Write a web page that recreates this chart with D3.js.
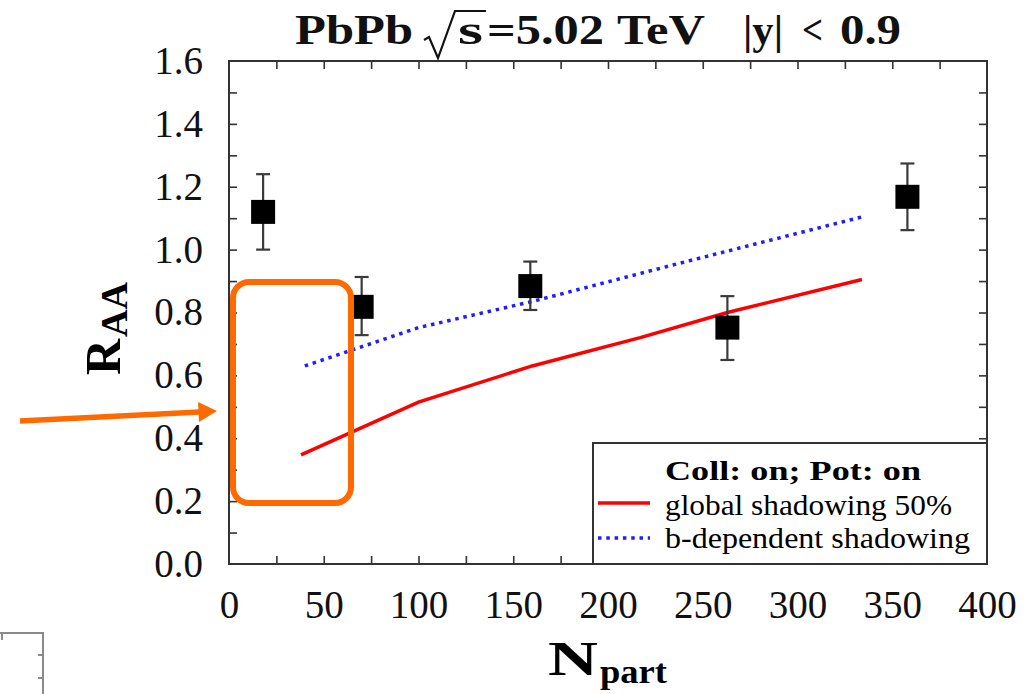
<!DOCTYPE html>
<html>
<head>
<meta charset="utf-8">
<script src="https://cdn.jsdelivr.net/npm/d3@7"></script>
<style>
  html, body { margin: 0; padding: 0; background: #fff; }
  svg { display: block; }
</style>
</head>
<body>
<svg id="chart" width="1035" height="694"></svg>
<script>
// Measured R_AA versus N_part (PbPb, 5.02 TeV, |y| < 0.9)
const dataNpart = [18, 70, 159, 263, 358];
const dataRaa   = [1.12, 0.818, 0.884, 0.752, 1.168];
const dataErrLo = [1.00, 0.728, 0.808, 0.649, 1.062];
const dataErrHi = [1.24, 0.913, 0.962, 0.852, 1.274];

// Model curves (Coll: on; Pot: on)
const globalNpart = [38, 100, 160, 217, 263, 334];
const globalRaa   = [0.347, 0.515, 0.63, 0.72, 0.80, 0.905];
const bdepNpart   = [40, 100, 160, 238, 334];
const bdepRaa     = [0.63, 0.752, 0.835, 0.957, 1.104];

// Axis ticks
const xTickLabels = [0, 50, 100, 150, 200, 250, 300, 350, 400];
const xMinorTicks = [25, 50, 75, 100, 125, 150, 175, 200, 225, 250, 275, 300, 325, 350, 375];
const yTickLabels = [0.0, 0.2, 0.4, 0.6, 0.8, 1.0, 1.2, 1.4, 1.6];
const yMinorTicks = [0.1, 0.2, 0.3, 0.4, 0.5, 0.6, 0.7, 0.8, 0.9, 1.0, 1.1, 1.2, 1.3, 1.4, 1.5];

const legendTitle = "Coll: on; Pot: on";
const legendLabels = ["global shadowing 50%", "b-dependent shadowing"];

const svg = d3.select("#chart");
const serif = "'Liberation Serif', 'Times New Roman', serif";

const x = d3.scaleLinear().domain([0, 400]).range([229, 987]);
const y = d3.scaleLinear().domain([0, 1.6]).range([564, 61]);

const frameColor = "#333";

// inward tick marks on all four sides
function tickAxis(axis, transform) {
  const g = svg.append("g").attr("transform", transform).call(axis);
  g.select(".domain").remove();
  g.selectAll("line").attr("stroke", frameColor).attr("stroke-width", 1.6);
  g.selectAll("text").remove();
}
tickAxis(d3.axisBottom(x).tickValues(xMinorTicks).tickSizeInner(-8).tickSizeOuter(0), `translate(0,${y(0)})`);
tickAxis(d3.axisTop(x).tickValues(xMinorTicks).tickSizeInner(-8).tickSizeOuter(0), `translate(0,${y(1.6)})`);
tickAxis(d3.axisLeft(y).tickValues(yMinorTicks).tickSizeInner(-8).tickSizeOuter(0), `translate(${x(0)},0)`);
tickAxis(d3.axisRight(y).tickValues(yMinorTicks).tickSizeInner(-8).tickSizeOuter(0), `translate(${x(400)},0)`);

// tick labels
const xLab = svg.append("g").attr("transform", `translate(0,${y(0)})`)
  .call(d3.axisBottom(x).tickValues(xTickLabels).tickSize(0).tickPadding(26).tickFormat(d3.format("d")));
xLab.select(".domain").remove();
xLab.selectAll("text").attr("font-family", serif).attr("font-size", 39).attr("fill", "#111");

const yLab = svg.append("g").attr("transform", `translate(${x(0)},0)`)
  .call(d3.axisLeft(y).tickValues(yTickLabels).tickSize(0).tickPadding(26).tickFormat(d3.format(".1f")));
yLab.select(".domain").remove();
yLab.selectAll("text").attr("font-family", serif).attr("font-size", 39).attr("fill", "#111");

// plot frame
svg.append("rect")
  .attr("x", x(0)).attr("y", y(1.6))
  .attr("width", x(400) - x(0)).attr("height", y(0) - y(1.6))
  .attr("fill", "none").attr("stroke", frameColor).attr("stroke-width", 2);

// model curves
const line = d3.line().x(d => x(d[0])).y(d => y(d[1]));
svg.append("path")
  .datum(d3.zip(globalNpart, globalRaa))
  .attr("d", line).attr("fill", "none")
  .attr("stroke", "#ff0000").attr("stroke-width", 3.5);
svg.append("path")
  .datum(d3.zip(bdepNpart, bdepRaa))
  .attr("d", line).attr("fill", "none")
  .attr("stroke", "#1e1eff").attr("stroke-width", 3.5)
  .attr("stroke-dasharray", "3.5,4.8");

// data points with error bars
const pts = dataNpart.map((n, i) => ({ n, v: dataRaa[i], lo: dataErrLo[i], hi: dataErrHi[i] }));
const capW = 7;
const eg = svg.append("g").attr("stroke", "#3a3a3a").attr("stroke-width", 2.2);
eg.selectAll(".bar").data(pts).join("line")
  .attr("x1", d => x(d.n)).attr("x2", d => x(d.n))
  .attr("y1", d => y(d.lo)).attr("y2", d => y(d.hi));
eg.selectAll(".capHi").data(pts).join("line")
  .attr("x1", d => x(d.n) - capW).attr("x2", d => x(d.n) + capW)
  .attr("y1", d => y(d.hi)).attr("y2", d => y(d.hi));
eg.selectAll(".capLo").data(pts).join("line")
  .attr("x1", d => x(d.n) - capW).attr("x2", d => x(d.n) + capW)
  .attr("y1", d => y(d.lo)).attr("y2", d => y(d.lo));
const ms = 24;
svg.append("g").selectAll("rect").data(pts).join("rect")
  .attr("x", d => x(d.n) - ms / 2).attr("y", d => y(d.v) - ms / 2)
  .attr("width", ms).attr("height", ms).attr("fill", "#000");

// legend
const lg = svg.append("g");
lg.append("rect").attr("x", 593).attr("y", 443).attr("width", 987 - 593).attr("height", 564 - 443)
  .attr("fill", "#fff").attr("stroke", frameColor).attr("stroke-width", 2);
lg.append("text").attr("x", 665).attr("y", 480).text(legendTitle)
  .attr("font-family", serif).attr("font-weight", "bold").attr("font-size", 28)
  .attr("textLength", 256).attr("lengthAdjust", "spacingAndGlyphs");
lg.append("line").attr("x1", 598).attr("x2", 650).attr("y1", 503).attr("y2", 503)
  .attr("stroke", "#ff0000").attr("stroke-width", 3.5);
lg.append("line").attr("x1", 598).attr("x2", 650).attr("y1", 538).attr("y2", 538)
  .attr("stroke", "#1e1eff").attr("stroke-width", 3.5).attr("stroke-dasharray", "3.5,4.8");
lg.append("text").attr("x", 665).attr("y", 515).text(legendLabels[0])
  .attr("font-family", serif).attr("font-size", 29)
  .attr("textLength", 287).attr("lengthAdjust", "spacingAndGlyphs");
lg.append("text").attr("x", 665).attr("y", 548).text(legendLabels[1])
  .attr("font-family", serif).attr("font-size", 29)
  .attr("textLength", 305).attr("lengthAdjust", "spacingAndGlyphs");

// title: PbPb √s=5.02 TeV |y| < 0.9
const tg = svg.append("g").attr("font-family", serif).attr("font-weight", "bold").attr("font-size", 42).attr("fill", "#111");
const titleParts = [
  { t: "PbPb", x: 295, w: 118 },
  { t: "s", x: 458, w: 25 },
  { t: "=5.02", x: 487, w: 117 },
  { t: "TeV", x: 617, w: 88 },
  { t: "|y|", x: 743, w: 40 },
  { t: "<", x: 802, w: 21 },
  { t: "0.9", x: 840, w: 61 }
];
tg.selectAll("text").data(titleParts).join("text")
  .attr("x", d => d.x).attr("y", 44).text(d => d.t)
  .attr("textLength", d => d.w).attr("lengthAdjust", "spacingAndGlyphs");
tg.append("path")
  .attr("d", "M424,40 L429,37 L438,58 L455,11 L486,11")
  .attr("fill", "none").attr("stroke", "#111").attr("stroke-width", 2.2).attr("stroke-linejoin", "miter");

// axis titles
svg.append("text").attr("x", 548).attr("y", 675).text("N")
  .attr("font-family", serif).attr("font-weight", "bold").attr("font-size", 48)
  .attr("textLength", 50).attr("lengthAdjust", "spacingAndGlyphs");
svg.append("text").attr("x", 600).attr("y", 683).text("part")
  .attr("font-family", serif).attr("font-weight", "bold").attr("font-size", 33)
  .attr("textLength", 67).attr("lengthAdjust", "spacingAndGlyphs");

const yt = svg.append("text").attr("transform", "translate(120,375) rotate(-90)")
  .attr("font-family", serif).attr("font-weight", "bold");
yt.append("tspan").attr("font-size", 50).text("R");
yt.append("tspan").attr("font-size", 38).attr("dy", 7).attr("dx", 2).text("AA");

// orange callout box and arrow
const orange = "#ff6a00";
svg.append("rect").attr("x", 233).attr("y", 282).attr("width", 118).attr("height", 221)
  .attr("rx", 16).attr("ry", 16)
  .attr("fill", "none").attr("stroke", orange).attr("stroke-width", 6);
svg.append("line").attr("x1", 20).attr("y1", 421).attr("x2", 200).attr("y2", 412)
  .attr("stroke", orange).attr("stroke-width", 5.5);
svg.append("path").attr("d", "M198,402 L217,411 L199,422 Z").attr("fill", orange);

// corner of a neighbouring panel, bottom left
const cg = svg.append("g").attr("stroke", "#8a8a8a").attr("stroke-width", 2).attr("fill", "none");
cg.append("path").attr("d", "M0,633 L43,633 L43,694");
cg.append("line").attr("x1", 2).attr("x2", 2).attr("y1", 633).attr("y2", 640);
cg.append("line").attr("x1", 38).attr("x2", 43).attr("y1", 655).attr("y2", 655);
cg.append("line").attr("x1", 38).attr("x2", 43).attr("y1", 678).attr("y2", 678);
</script>
</body>
</html>
